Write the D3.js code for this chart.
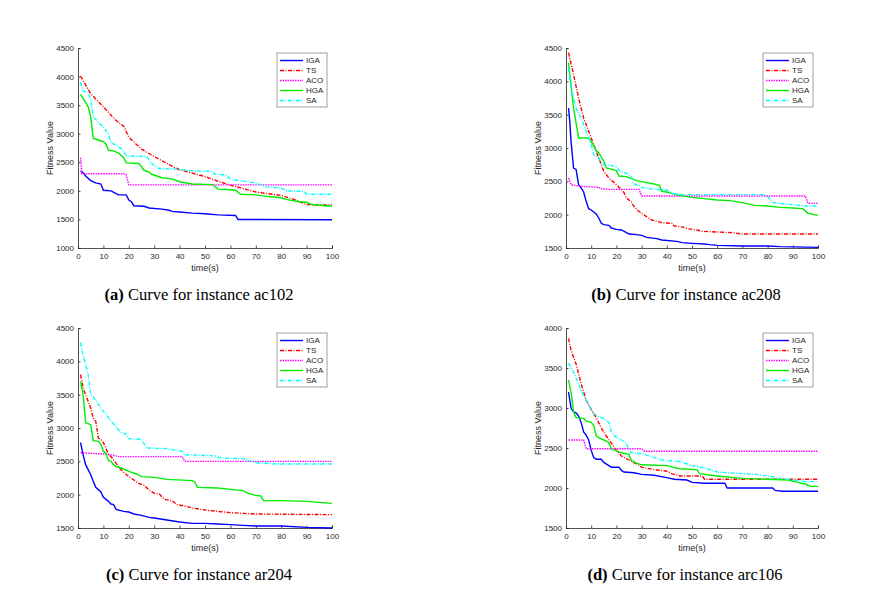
<!DOCTYPE html>
<html><head><meta charset="utf-8">
<script src="https://cdn.jsdelivr.net/npm/d3@7/dist/d3.min.js"></script>
<style>body{margin:0;background:#fff}svg{display:block}</style>
</head><body>
<svg id="c" width="872" height="603"></svg>
<script>
const seriesNames = ["IGA","TS","ACO","HGA","SA"];
const xTicks = [0,10,20,30,40,50,60,70,80,90,100];

// Panel (a) ac102
const a_IGA = [[1,2340],[2,2320],[3,2260],[5,2180],[7,2140],[9,2120],[10,2010],[13,2000],[15,1950],[16,1930],[19,1930],[20,1840],[21,1810],[22,1740],[26,1730],[28,1700],[33,1680],[36,1660],[37,1640],[40,1630],[45,1610],[50,1600],[55,1580],[62,1570],[63,1500],[100,1495]];
const a_TS = [[1,4010],[5,3700],[10,3470],[15,3230],[18,3130],[20,2940],[25,2730],[30,2600],[35,2480],[38,2410],[40,2370],[45,2310],[50,2250],[55,2170],[60,2100],[65,2040],[70,1980],[75,1950],[80,1920],[85,1850],[90,1760],[95,1755],[100,1750]];
const a_ACO = [[1,2580],[1.5,2300],[18,2300],[19,2280],[20,2105],[100,2105]];
const a_HGA = [[1,3690],[3,3550],[4,3470],[5,3300],[6,2920],[8,2890],[10,2860],[11,2820],[12,2710],[14,2700],[16,2660],[18,2580],[19,2490],[24,2480],[26,2360],[28,2330],[29,2290],[31,2260],[33,2230],[37,2210],[40,2160],[45,2120],[53,2110],[55,2030],[60,2020],[62,2010],[64,1940],[70,1930],[75,1900],[80,1880],[82,1850],[87,1810],[90,1800],[92,1760],[100,1730]];
const a_SA = [[1,3900],[2,3750],[4,3720],[5,3600],[6,3300],[8,3200],[10,3120],[11,3050],[12,2990],[13,2840],[15,2800],[17,2740],[19,2620],[20,2610],[27,2600],[29,2480],[30,2440],[32,2390],[40,2380],[45,2350],[53,2340],[54,2290],[58,2280],[59,2250],[60,2200],[65,2170],[70,2140],[74,2070],[80,2050],[82,2000],[89,1990],[90,1940],[100,1940]];

// Panel (b) ac208
const b_IGA = [[1,3600],[1.5,3400],[2,3100],[3,2700],[4,2680],[5,2450],[6,2400],[7,2340],[8,2200],[9,2090],[10,2070],[11,2040],[12,2010],[13,1950],[14,1870],[15,1850],[17,1840],[18,1800],[20,1780],[22,1770],[24,1730],[25,1710],[28,1700],[30,1690],[32,1660],[36,1640],[38,1620],[44,1600],[46,1580],[50,1570],[55,1560],[57,1550],[60,1540],[70,1530],[80,1530],[85,1520],[100,1510]];
const b_TS = [[1,4430],[3,4100],[5,3750],[7,3450],[10,3150],[13,2850],[15,2650],[17,2550],[20,2450],[22,2380],[23,2330],[24,2250],[26,2190],[27,2120],[28,2080],[30,2020],[32,1970],[34,1920],[38,1880],[42,1870],[43,1830],[47,1810],[48,1790],[52,1770],[54,1750],[60,1740],[66,1730],[70,1710],[100,1710]];
const b_ACO = [[1,2550],[2,2450],[5,2430],[8,2420],[13,2410],[14,2390],[17,2380],[29,2380],[30,2280],[95,2280],[96,2170],[100,2170]];
const b_HGA = [[1,4280],[3,3600],[5,3150],[9,3150],[10,3100],[12,2960],[13,2930],[15,2800],[16,2700],[20,2660],[21,2580],[24,2570],[26,2540],[28,2510],[32,2480],[35,2460],[37,2440],[38,2350],[40,2340],[42,2320],[45,2290],[50,2260],[55,2240],[60,2220],[65,2210],[70,2180],[75,2140],[80,2130],[85,2110],[90,2100],[94,2090],[96,2020],[100,1990]];
const b_SA = [[1,4200],[2,3900],[4,3600],[6,3450],[8,3250],[10,3050],[11,2900],[13,2850],[14,2780],[15,2750],[18,2740],[20,2710],[22,2640],[24,2620],[26,2570],[27,2460],[29,2440],[30,2410],[35,2380],[40,2370],[42,2320],[45,2300],[60,2300],[78,2300],[80,2270],[82,2180],[88,2160],[90,2150],[95,2130],[100,2130]];

// Panel (c) ar204
const c_IGA = [[1,2780],[2,2600],[3,2450],[5,2300],[6,2200],[7,2110],[9,2040],[10,1960],[12,1900],[13,1860],[14,1850],[15,1780],[18,1750],[20,1740],[22,1710],[25,1690],[28,1660],[30,1650],[35,1620],[40,1590],[45,1570],[50,1570],[55,1560],[60,1550],[65,1540],[70,1530],[80,1530],[90,1510],[100,1500]];
const c_TS = [[1,3800],[2,3600],[3,3500],[5,3300],[6,3150],[7,3100],[8,2850],[9,2830],[10,2780],[11,2700],[12,2600],[13,2570],[15,2470],[17,2370],[20,2270],[22,2220],[24,2170],[26,2140],[28,2070],[30,2020],[32,2010],[34,1930],[37,1910],[39,1850],[42,1830],[45,1800],[50,1770],[55,1750],[60,1730],[65,1720],[70,1710],[100,1700]];
const c_ACO = [[1,2630],[10,2610],[14,2590],[16,2570],[41,2570],[42,2500],[100,2500]];
const c_HGA = [[1,3700],[2,3500],[3,3080],[5,3050],[6,2810],[8,2800],[9,2760],[10,2650],[11,2620],[12,2510],[13,2500],[14,2450],[15,2420],[17,2400],[20,2350],[23,2310],[25,2270],[30,2260],[35,2230],[45,2210],[46,2190],[47,2110],[55,2100],[60,2080],[65,2060],[67,2020],[70,1990],[72,1980],[73,1910],[80,1910],[90,1900],[100,1870]];
const c_SA = [[1,4280],[2,4100],[3,3950],[4,3800],[5,3500],[7,3420],[8,3360],[10,3250],[12,3160],[13,3100],[14,3060],[16,2970],[17,2930],[19,2910],[20,2840],[25,2830],[27,2700],[35,2690],[38,2670],[41,2650],[42,2600],[50,2590],[54,2580],[56,2550],[65,2540],[70,2480],[78,2460],[100,2460]];

// Panel (d) arc106
const d_IGA = [[1,3200],[2,3000],[3,2950],[4,2940],[5,2900],[6,2820],[7,2700],[8,2660],[9,2600],[10,2470],[11,2380],[12,2360],[14,2360],[15,2320],[17,2280],[18,2260],[21,2260],[22,2220],[23,2200],[27,2190],[30,2170],[35,2160],[40,2130],[43,2110],[48,2100],[50,2070],[55,2060],[63,2060],[64,2000],[82,2000],[83,1970],[86,1960],[100,1960]];
const d_TS = [[1,3870],[2,3720],[4,3550],[6,3300],[8,3100],[10,2980],[12,2880],[14,2750],[16,2650],[18,2560],[20,2470],[22,2400],[25,2350],[28,2300],[30,2260],[35,2230],[40,2210],[42,2180],[45,2150],[54,2150],[55,2110],[100,2110]];
const d_ACO = [[1,2600],[7,2600],[8,2490],[30,2490],[31,2460],[100,2460]];
const d_HGA = [[1,3350],[2,3200],[3,2950],[4,2880],[7,2870],[8,2840],[10,2820],[11,2780],[12,2650],[13,2630],[15,2600],[17,2570],[18,2490],[22,2440],[25,2420],[26,2340],[28,2310],[30,2290],[40,2280],[45,2240],[52,2230],[53,2180],[60,2150],[70,2120],[80,2110],[88,2100],[92,2070],[95,2050],[97,2020],[100,2020]];
const d_SA = [[1,3560],[3,3450],[5,3300],[7,3150],[9,3050],[11,2930],[13,2890],[15,2870],[17,2820],[18,2700],[20,2630],[22,2600],[24,2560],[25,2470],[26,2440],[30,2430],[35,2380],[38,2350],[45,2330],[50,2280],[55,2250],[60,2200],[70,2180],[75,2170],[80,2150],[85,2120],[90,2100],[95,2080],[100,2080]];

const yTicksA = [1000,1500,2000,2500,3000,3500,4000,4500];
const yTicksB = [1500,2000,2500,3000,3500,4000,4500];
const yTicksC = [1500,2000,2500,3000,3500,4000,4500];
const yTicksD = [1500,2000,2500,3000,3500,4000];

const captions = [["(a)"," Curve for instance ac102"],["(b)"," Curve for instance ac208"],["(c)"," Curve for instance ar204"],["(d)"," Curve for instance arc106"]];

const styles = {
  IGA:{color:"#0000ff", dash:null},
  TS:{color:"#ff0000", dash:"4,1.5,1,1.5"},
  ACO:{color:"#ff00ff", dash:"1.5,1"},
  HGA:{color:"#00ee00", dash:null},
  SA:{color:"#00ffff", dash:"4,1.5,1,1.5"}
};

const panels = [
  {data:[a_IGA,a_TS,a_ACO,a_HGA,a_SA], yd:[1000,4500], yt:yTicksA, x0:78, x1:332, y0:48, y1:248, cap:captions[0], capX:199, capY:300},
  {data:[b_IGA,b_TS,b_ACO,b_HGA,b_SA], yd:[1500,4500], yt:yTicksB, x0:566, x1:818, y0:48, y1:248, cap:captions[1], capX:686, capY:300},
  {data:[c_IGA,c_TS,c_ACO,c_HGA,c_SA], yd:[1500,4500], yt:yTicksC, x0:78, x1:332, y0:328, y1:528, cap:captions[2], capX:199, capY:580},
  {data:[d_IGA,d_TS,d_ACO,d_HGA,d_SA], yd:[1500,4000], yt:yTicksD, x0:566, x1:818, y0:328, y1:528, cap:captions[3], capX:685, capY:580}
];

const svg = d3.select("#c");
const axisCol = "#262626";
const sans = "Liberation Sans, Arial, sans-serif";

panels.forEach(p => {
  const x = d3.scaleLinear().domain([0,100]).range([p.x0,p.x1]);
  const y = d3.scaleLinear().domain(p.yd).range([p.y1,p.y0]);
  const g = svg.append("g");

  const xa = g.append("g").attr("transform",`translate(0,${p.y1})`)
    .call(d3.axisBottom(x).tickValues(xTicks).tickSize(-2.5).tickPadding(5).tickFormat(d3.format("d")));
  const ya = g.append("g").attr("transform",`translate(${p.x0},0)`)
    .call(d3.axisLeft(y).tickValues(p.yt).tickSize(-2.5).tickPadding(4).tickFormat(d3.format("d")));
  [xa,ya].forEach(a=>{
    a.select(".domain").attr("stroke",axisCol).attr("stroke-width",0.8);
    a.selectAll(".tick line").attr("stroke",axisCol).attr("stroke-width",0.8);
    a.selectAll(".tick text").attr("fill",axisCol).style("font-family",sans).style("font-size","8px");
  });

  g.append("text").attr("x",(p.x0+p.x1)/2).attr("y",p.y1+23).attr("text-anchor","middle")
    .style("font-family",sans).style("font-size","9px").attr("fill",axisCol).text("time(s)");
  g.append("text").attr("transform",`translate(${p.x0-25},${(p.y0+p.y1)/2}) rotate(-90)`).attr("text-anchor","middle")
    .style("font-family",sans).style("font-size","9px").attr("fill",axisCol).text("Fitness Value");

  const line = d3.line().x(d=>x(d[0])).y(d=>y(d[1]));
  p.data.forEach((s,i)=>{
    const st = styles[seriesNames[i]];
    g.append("path").datum(s).attr("d",line).attr("fill","none")
      .attr("stroke",st.color).attr("stroke-width",1.4)
      .attr("stroke-dasharray",st.dash);
  });

  const lx = p.x1 - 55, ly = p.y0 + 5;
  const lg = g.append("g");
  lg.append("rect").attr("x",lx).attr("y",ly).attr("width",50).attr("height",54)
    .attr("fill","#fff").attr("stroke","#888").attr("stroke-width",0.8);
  seriesNames.forEach((n,i)=>{
    const st = styles[n];
    const yy = ly + 7.5 + i*10;
    lg.append("line").attr("x1",lx+3).attr("x2",lx+26).attr("y1",yy).attr("y2",yy)
      .attr("stroke",st.color).attr("stroke-width",1.4).attr("stroke-dasharray",st.dash);
    lg.append("text").attr("x",lx+29).attr("y",yy+2.9).text(n)
      .style("font-family",sans).style("font-size","8px").attr("fill",axisCol);
  });

  const t = g.append("text").attr("x",p.capX).attr("y",p.capY).attr("text-anchor","middle")
    .style("font-family","Liberation Serif, Times New Roman, serif").style("font-size","16.5px").attr("fill","#000");
  t.append("tspan").style("font-weight","bold").text(p.cap[0]);
  t.append("tspan").text(p.cap[1]);
});
</script>
</body></html>
